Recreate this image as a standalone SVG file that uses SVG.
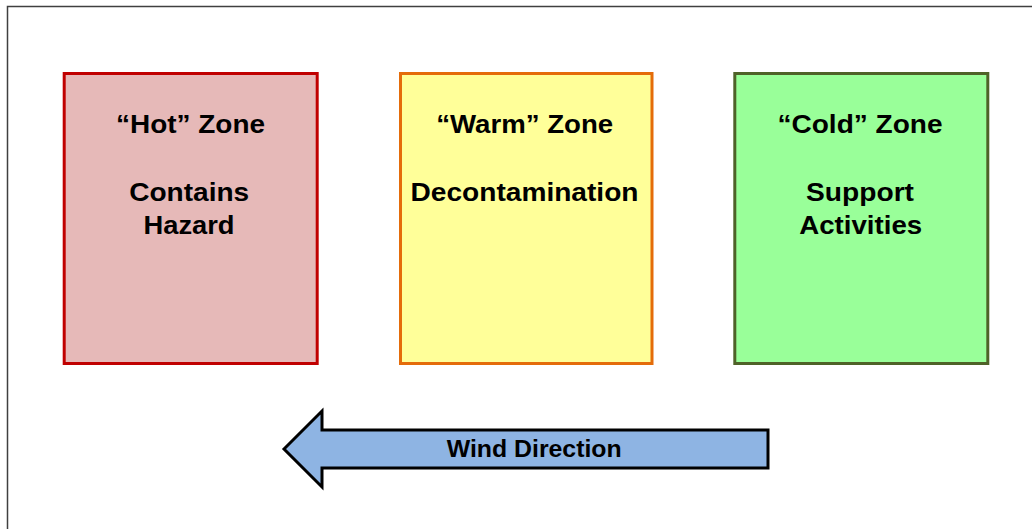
<svg xmlns="http://www.w3.org/2000/svg" width="1032" height="529" viewBox="0 0 1032 529">
<style>
.zone{stroke-width:3}
.t{font-family:"Liberation Sans",Arial,sans-serif;font-weight:bold;font-size:25px;fill:#000;text-anchor:middle}
.w{font-family:"Liberation Sans",Arial,sans-serif;font-weight:bold;font-size:24px;fill:#000;text-anchor:middle}
</style>
<rect x="0" y="0" width="1032" height="529" fill="#fff"/>
<rect x="7.5" y="6.5" width="1030" height="530" fill="none" stroke="#404040" stroke-width="1.5"/>
<g id="hot">
<rect class="zone" x="64.2" y="73.5" width="253" height="290" fill="#E6B9B8" stroke="#C00000"/>
<text class="t" x="190.5" y="132.7" textLength="149" lengthAdjust="spacingAndGlyphs">“Hot” Zone</text>
<text class="t" x="189.2" y="200.7" textLength="120" lengthAdjust="spacingAndGlyphs">Contains</text>
<text class="t" x="189" y="234" textLength="91" lengthAdjust="spacingAndGlyphs">Hazard</text>
</g>
<g id="warm">
<rect class="zone" x="400.5" y="73.5" width="251.5" height="290" fill="#FFFF99" stroke="#E46C0A"/>
<text class="t" x="524.7" y="132.7" textLength="177" lengthAdjust="spacingAndGlyphs">“Warm” Zone</text>
<text class="t" x="524.5" y="200.7" textLength="228" lengthAdjust="spacingAndGlyphs">Decontamination</text>
</g>
<g id="cold">
<rect class="zone" x="734.8" y="73.5" width="253" height="290" fill="#99FF99" stroke="#4F6228"/>
<text class="t" x="860" y="132.7" textLength="165" lengthAdjust="spacingAndGlyphs">“Cold” Zone</text>
<text class="t" x="860" y="200.7" textLength="108" lengthAdjust="spacingAndGlyphs">Support</text>
<text class="t" x="860.7" y="234" textLength="123" lengthAdjust="spacingAndGlyphs">Activities</text>
</g>
<g id="connectors">
<g id="wind-arrow">
<path d="M284,449 L322,411 L322,430 L768,430 L768,468 L322,468 L322,487 Z" fill="#8EB4E3" stroke="#000" stroke-width="3" stroke-linejoin="miter"/>
<text class="w" x="534.2" y="456.7" textLength="175" lengthAdjust="spacingAndGlyphs">Wind Direction</text>
</g>
</g>
</svg>
